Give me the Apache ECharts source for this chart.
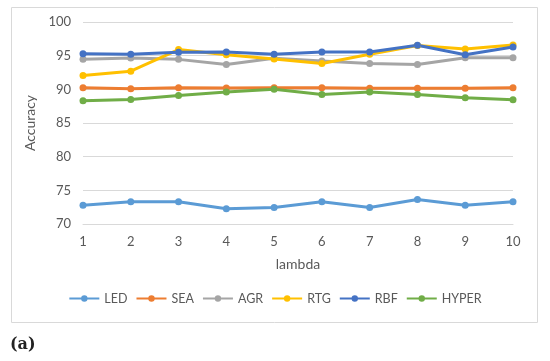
<!DOCTYPE html>
<html>
<head>
<meta charset="utf-8">
<script src="https://cdn.jsdelivr.net/npm/echarts@6/dist/echarts.min.js"></script>
<style>html,body{margin:0;padding:0;background:#fff;}#c{width:550px;height:361px;}</style>
</head>
<body>
<div id="c"></div>
<script>
const categories = ['1','2','3','4','5','6','7','8','9','10'];
const LED   = [72.8, 73.3, 73.3, 72.25, 72.45, 73.3, 72.45, 73.65, 72.8, 73.3];
const SEA   = [90.25, 90.1, 90.25, 90.2, 90.25, 90.25, 90.15, 90.15, 90.15, 90.25];
const AGR   = [94.45, 94.65, 94.45, 93.7, 94.6, 94.2, 93.85, 93.7, 94.7, 94.7];
const RTG   = [92.05, 92.7, 95.9, 95.15, 94.5, 93.85, 95.2, 96.5, 96.0, 96.6];
const RBF   = [95.3, 95.2, 95.5, 95.55, 95.2, 95.55, 95.55, 96.55, 95.15, 96.3];
const HYPER = [88.3, 88.5, 89.1, 89.6, 90.0, 89.25, 89.6, 89.25, 88.75, 88.45];
const seriesNames = ['LED','SEA','AGR','RTG','RBF','HYPER'];
const seriesData = [LED, SEA, AGR, RTG, RBF, HYPER];
const colors = ['#5B9BD5','#ED7D31','#A5A5A5','#FFC000','#4472C4','#70AD47'];

const font = 'Lato';
const chart = echarts.init(document.getElementById('c'));
chart.setOption({
  animation: false,
  color: colors,
  textStyle: {fontFamily: font},
  grid: {left: 83, right: 37, top: 22, bottom: 137},
  graphic: [
    {type: 'rect', shape: {x: 11.5, y: 7.5, width: 526, height: 315}, style: {fill: 'none', stroke: '#D9D9D9', lineWidth: 1}, z: -1},
    {type: 'text', left: 10, top: 337, style: {text: '(a)', font: 'bold 16px "DejaVu Serif"', fill: '#222'}}
  ],
  legend: {
    bottom: 51, left: 'center',
    itemWidth: 30, itemHeight: 8, itemGap: 8,
    textStyle: {color: '#595959', fontSize: 12.5, fontFamily: font},
    data: seriesNames
  },
  xAxis: {
    type: 'category', data: categories, boundaryGap: false,
    name: 'lambda', nameLocation: 'middle', nameGap: 33,
    nameTextStyle: {color: '#595959', fontSize: 14, fontFamily: font},
    axisLine: {show: true, lineStyle: {color: '#D9D9D9'}},
    axisTick: {show: false},
    axisLabel: {color: '#595959', fontSize: 13, margin: 11}
  },
  yAxis: {
    type: 'value', min: 70, max: 100, interval: 5,
    name: 'Accuracy', nameLocation: 'middle', nameGap: 36,
    nameTextStyle: {color: '#595959', fontSize: 14, fontFamily: font},
    axisLine: {show: false}, axisTick: {show: false},
    axisLabel: {color: '#595959', fontSize: 13, margin: 12},
    splitLine: {lineStyle: {color: '#D9D9D9', width: 1}}
  },
  series: seriesNames.map((n, i) => ({
    name: n, type: 'line', data: seriesData[i],
    symbol: 'circle', symbolSize: 7,
    lineStyle: {width: 3, color: colors[i]},
    itemStyle: {color: colors[i]}
  }))
});
</script>
</body>
</html>
